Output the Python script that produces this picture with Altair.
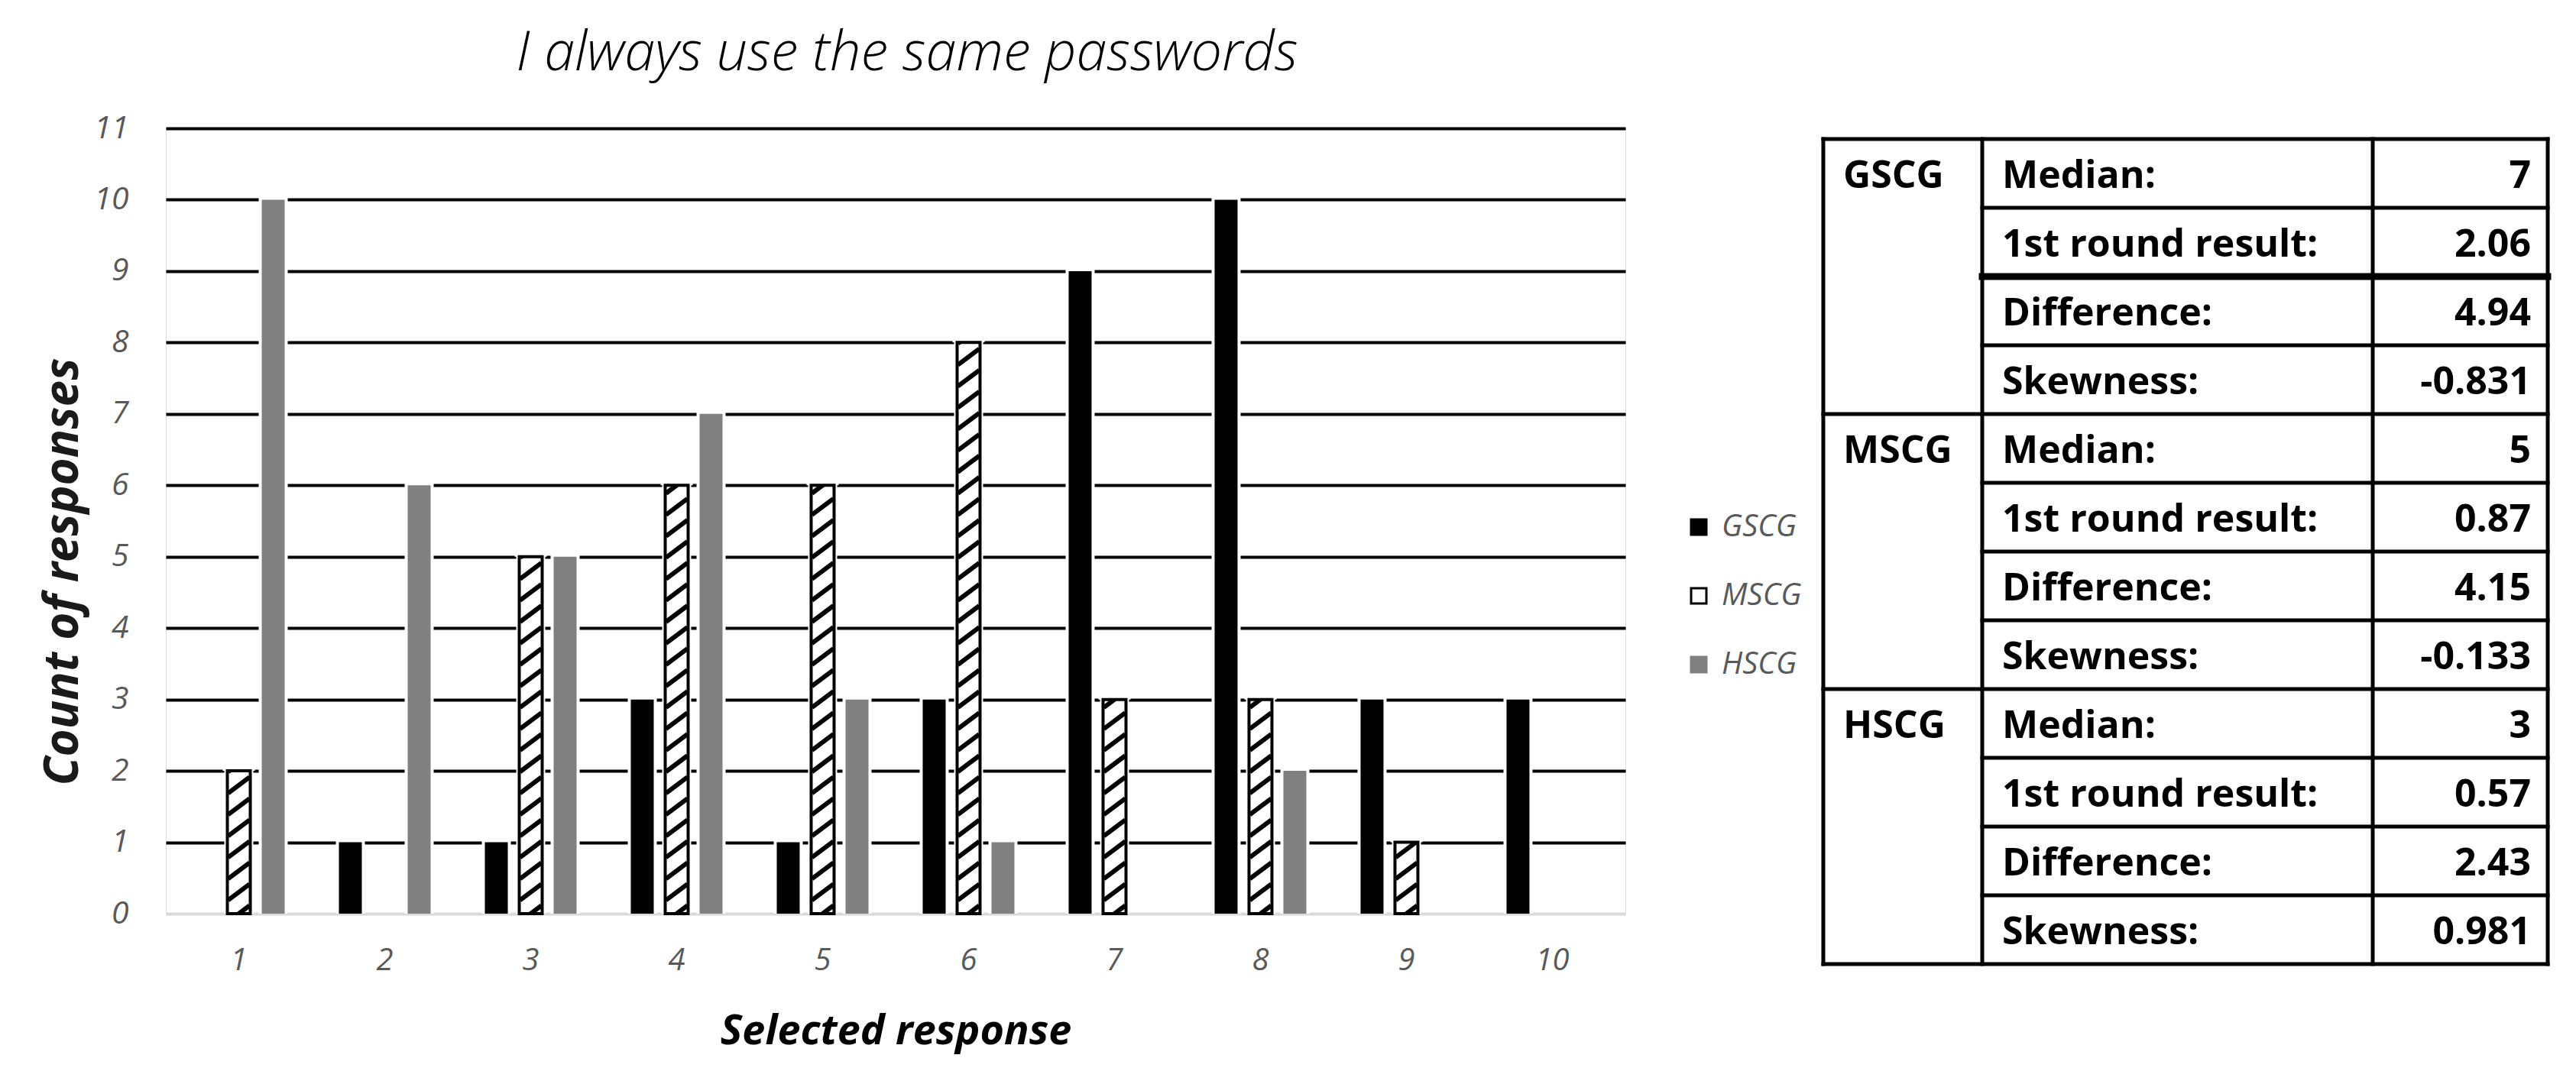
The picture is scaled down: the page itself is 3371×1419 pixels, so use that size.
import altair as alt
import pandas as pd

# ---------------- data ----------------
responses = [1, 2, 3, 4, 5, 6, 7, 8, 9, 10]
groups = ["GSCG", "MSCG", "HSCG"]
gscg_counts = [0, 1, 1, 3, 1, 3, 9, 10, 3, 3]
mscg_counts = [2, 0, 5, 6, 6, 8, 3, 3, 1, 0]
hscg_counts = [10, 6, 5, 7, 3, 1, 0, 2, 0, 0]
y_ticks = list(range(0, 12))

stat_labels = ["Median:", "1st round result:", "Difference:", "Skewness:"]
gscg_stats = ["7", "2.06", "4.94", "-0.831"]
mscg_stats = ["5", "0.87", "4.15", "-0.133"]
hscg_stats = ["3", "0.57", "2.43", "0.981"]

title_text = "I always use the same passwords"
x_title = "Selected response"
y_title = "Count of responses"

# ---------------- layout / style constants ----------------
FONT = "Open Sans"
PLOT_W, PLOT_H = 1910, 1028
BAR_W = 30
HATCH_STEP = 0.3
TABLE_COLS = [0, 208, 719, 948]      # column boundaries (table units)
TABLE_ROWS = 12
THICK_RULE_ROW = 2                   # heavier line under "1st round result" (GSCG)
colors = ["#000000", "#ffffff", "#808080"]
edge_colors = ["#000000", "#000000", "#808080"]

# ---------------- tables built from the arrays ----------------
series = dict(zip(groups, [gscg_counts, mscg_counts, hscg_counts]))
bar_rows = []
for g in groups:
    for r, v in zip(responses, series[g]):
        if v > 0:
            bar_rows.append({"response": r, "group": g, "count": v})
bars_df = pd.DataFrame(bar_rows)
mscg_df = bars_df[bars_df["group"] == "MSCG"].reset_index(drop=True)

hatch_rows = []
for r, v in zip(responses, mscg_counts):
    if v <= 0:
        continue
    k = 0
    while k * HATCH_STEP - 0.13 < v:
        hatch_rows.append({"response": r, "group": "MSCG", "yc": k * HATCH_STEP})
        k += 1
hatch_df = pd.DataFrame(hatch_rows)

# ---------------- shared encodings ----------------
x_axis = alt.Axis(
    title=x_title, labelAngle=0, labelFont=FONT, labelFontSize=40,
    labelFontStyle="italic", labelColor="#595959", ticks=False, domain=False,
    grid=False, labelPadding=41, titleFont=FONT, titleFontSize=54,
    titleFontStyle="italic", titleFontWeight="bold", titleColor="#000000",
    titleY=154, titleBaseline="middle",
)
y_axis = alt.Axis(
    title=y_title, values=y_ticks, labelFont=FONT, labelFontSize=41,
    labelFontStyle="italic", labelColor="#595959", ticks=False, tickSize=0,
    domain=False, labelPadding=49, grid=True, gridWidth=4,
    gridColor={"condition": {"test": "datum.value === 0", "value": "#d9d9d9"},
               "value": "#000000"},
    titleFont=FONT, titleFontSize=62, titleFontStyle="italic",
    titleFontWeight="bold", titleColor="#1a1a1a", titleX=-135, titleY=580,
    titleAngle=270, titleAlign="center", titleBaseline="middle",
)
x_scale = alt.Scale(paddingInner=0.293, paddingOuter=0.1466)
y_scale = alt.Scale(domain=[0, 11])


def X():
    return alt.X("response:O", scale=x_scale, axis=x_axis)


def XO():
    return alt.XOffset("group:N", scale=alt.Scale(domain=groups, paddingInner=0, paddingOuter=0))


def Y(field):
    return alt.Y(field, scale=y_scale, axis=y_axis)


def make_legend():
    return alt.Legend(
        title=None, orient="none", legendX=1986, legendY=502,
        labelFont=FONT, labelFontSize=40, labelFontStyle="italic", labelColor="#595959",
        symbolType="square", symbolSize=400, symbolStrokeWidth=3,
        rowPadding=50, labelOffset=10, padding=0,
    )


halo = alt.Chart(bars_df).transform_calculate(
    halo_top="datum.count + 0.045"
).mark_bar(width=BAR_W + 8, color="white").encode(
    x=X(), xOffset=XO(), y=Y("halo_top:Q"),
)

main = alt.Chart(bars_df).mark_bar(width=BAR_W, strokeWidth=0).encode(
    x=X(), xOffset=XO(), y=Y("count:Q"),
    fill=alt.Fill("group:N", scale=alt.Scale(domain=groups, range=colors),
                  legend=make_legend()),
    stroke=alt.Stroke("group:N", scale=alt.Scale(domain=groups, range=edge_colors),
                      legend=make_legend()),
)

stripes = alt.Chart(hatch_df).mark_point(
    shape="M-1,0.75L1,-0.75", size=(BAR_W - 2) ** 2, filled=False,
    stroke="black", strokeWidth=6, opacity=1, clip=True,
).encode(x=X(), xOffset=XO(), y=Y("yc:Q"))

cover = alt.Chart(mscg_df).transform_calculate(
    top="datum.count", top2="datum.count + 0.3"
).mark_bar(width=BAR_W + 12, color="white").encode(
    x=X(), xOffset=XO(), y=Y("top:Q"), y2="top2:Q",
)

outline = alt.Chart(mscg_df).mark_bar(
    width=BAR_W, fillOpacity=0, stroke="black", strokeWidth=4,
).encode(x=X(), xOffset=XO(), y=Y("count:Q"))

bars = alt.layer(halo, main, stripes, cover, outline)

# ---------------- table ----------------
stats = dict(zip(groups, [gscg_stats, mscg_stats, hscg_stats]))
hrule_rows = []
for r in range(TABLE_ROWS + 1):
    x0 = TABLE_COLS[0] if r % 4 == 0 else TABLE_COLS[1]
    hrule_rows.append({"r": r, "x0": x0, "x1": TABLE_COLS[-1]})
hrule_df = pd.DataFrame(hrule_rows)
vrule_rows = [{"c": c, "r0": 0, "r1": TABLE_ROWS} for c in TABLE_COLS]
grp_rows, lab_rows, val_rows = [], [], []
for gi, g in enumerate(groups):
    grp_rows.append({"t": g, "r": gi * 4 + 0.5, "x": TABLE_COLS[0] + 26})
    for j, lab in enumerate(stat_labels):
        lab_rows.append({"t": lab, "r": gi * 4 + j + 0.5, "x": TABLE_COLS[1] + 26})
        val_rows.append({"t": stats[g][j], "r": gi * 4 + j + 0.5, "x": TABLE_COLS[-1] - 22})

tx_scale = alt.Scale(domain=[0, TABLE_COLS[-1]], range=[2169, 3117])
ty_scale = alt.Scale(domain=[0, TABLE_ROWS], range=[14, 1094])


def hrule_layer(df, width):
    return alt.Chart(df).mark_rule(
        color="black", strokeWidth=width, strokeCap="square"
    ).encode(
        x=alt.X("x0:Q", scale=tx_scale, axis=None), x2="x1:Q",
        y=alt.Y("r:Q", scale=ty_scale, axis=None),
    )


hrules = hrule_layer(hrule_df, 5)
hrule_thick = hrule_layer(hrule_df[hrule_df["r"] == THICK_RULE_ROW], 9)
vrules = alt.Chart(pd.DataFrame(vrule_rows)).mark_rule(
    color="black", strokeWidth=5, strokeCap="square"
).encode(
    x=alt.X("c:Q", scale=tx_scale, axis=None),
    y=alt.Y("r0:Q", scale=ty_scale, axis=None), y2="r1:Q",
)


def table_text(rows, align):
    return alt.Chart(pd.DataFrame(rows)).mark_text(
        align=align, baseline="middle", dy=4, font=FONT, fontSize=50,
        fontWeight="bold", color="black",
    ).encode(
        x=alt.X("x:Q", scale=tx_scale, axis=None),
        y=alt.Y("r:Q", scale=ty_scale, axis=None),
        text="t:N",
    )


table = alt.layer(hrules, hrule_thick, vrules, table_text(grp_rows, "left"),
                  table_text(lab_rows, "left"), table_text(val_rows, "right"))

chart = alt.layer(bars, table).resolve_scale(
    x="independent", y="independent"
).properties(
    width=PLOT_W, height=PLOT_H,
    title=alt.Title(title_text, anchor="middle", frame="group", dx=15, offset=-17,
                    baseline="alphabetic", font=FONT, fontSize=72,
                    fontStyle="italic", fontWeight=300, color="#000000"),
    autosize=alt.AutoSizeParams(type="none"),
    padding={"left": 209, "top": 160, "right": 1230, "bottom": 210},
).configure_view(stroke=None, strokeWidth=0).configure_axis(
    domain=False
).configure(background="white")

chart.save("out.html", embed_options={"renderer": "svg", "actions": False})
